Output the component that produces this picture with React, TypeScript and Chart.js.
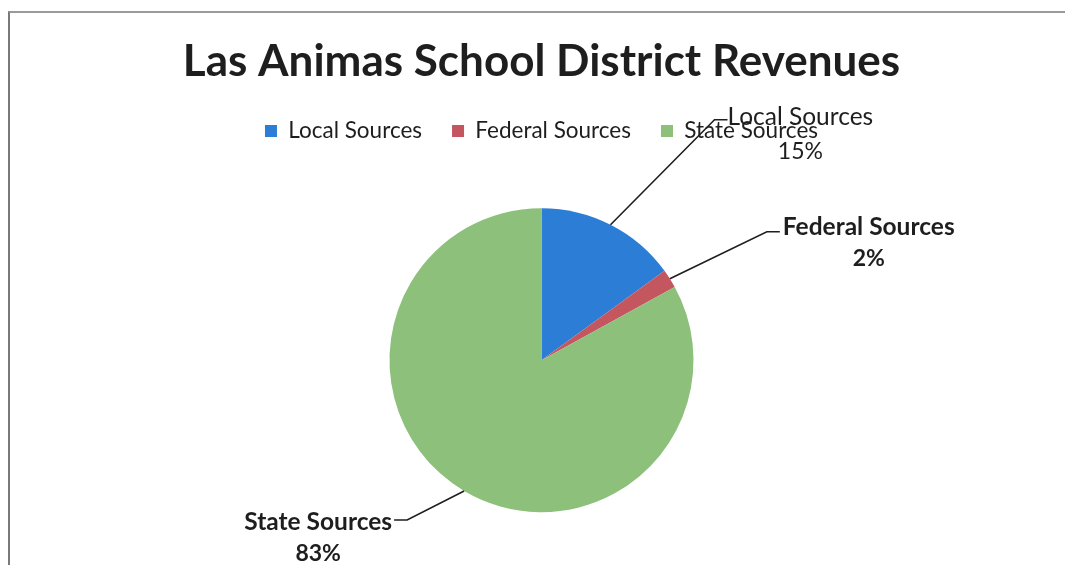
import React, { useEffect, useRef } from 'react';
import { Chart, registerables } from 'chart.js';

Chart.register(...registerables);

const titleText = 'Las Animas School District Revenues';
const categories = ['Local Sources', 'Federal Sources', 'State Sources'];
const shares = [15, 2, 83];
const percentLabels = ['15%', '2%', '83%'];

const sliceColors = ['#2C7DD6', '#C4565F', '#8DC07A'];

type Placement = {
  elbow: [number, number];
  end: [number, number];
  side: 'left' | 'right';
  gap: number;
  nameDy: number;
  pctDy: number;
  nameFont: string;
  pctFont: string;
};

const labelPlacement: Placement[] = [
  { elbow: [104, -105], end: [117, -105], side: 'right', gap: 0, nameDy: -3, pctDy: 35, nameFont: '400 24.5px Lato', pctFont: '400 23px Lato' },
  { elbow: [97, -47], end: [110, -47], side: 'right', gap: 3, nameDy: -5, pctDy: 32, nameFont: '700 24.5px Lato', pctFont: '700 23px Lato' },
  { elbow: [-57, 29], end: [-70, 29], side: 'left', gap: 2, nameDy: 2, pctDy: 32, nameFont: '700 24.5px Lato', pctFont: '700 23px Lato' },
];

const leaderLabels = {
  id: 'leaderLabels',
  afterDraw(chart: any) {
    const ctx = chart.ctx as CanvasRenderingContext2D;
    const meta = chart.getDatasetMeta(0);
    meta.data.forEach((arc: any, i: number) => {
      const p = arc.getProps(['x', 'y', 'startAngle', 'endAngle', 'outerRadius'], true);
      const mid = (p.startAngle + p.endAngle) / 2;
      const ax = p.x + Math.cos(mid) * p.outerRadius;
      const ay = p.y + Math.sin(mid) * p.outerRadius;
      const pl = labelPlacement[i];
      const ex = ax + pl.end[0];
      const ey = ay + pl.end[1];
      ctx.save();
      ctx.strokeStyle = '#1e1e1e';
      ctx.lineWidth = 1.6;
      ctx.beginPath();
      ctx.moveTo(ax, ay);
      ctx.lineTo(ax + pl.elbow[0], ay + pl.elbow[1]);
      ctx.lineTo(ex, ey);
      ctx.stroke();
      ctx.fillStyle = '#1e1e1e';
      ctx.textAlign = 'center';
      ctx.textBaseline = 'middle';
      ctx.font = pl.nameFont;
      const name = categories[i];
      const w = ctx.measureText(name).width;
      const left = pl.side === 'right' ? ex + pl.gap : ex - pl.gap - w;
      const cx = left + w / 2;
      ctx.fillText(name, cx, ey + pl.nameDy);
      ctx.font = pl.pctFont;
      ctx.fillText(percentLabels[i], cx, ey + pl.nameDy + pl.pctDy);
      ctx.restore();
    });
  },
};

export default function App() {
  const canvasRef = useRef<HTMLCanvasElement | null>(null);

  useEffect(() => {
    if (!canvasRef.current) return;
    const chart = new Chart(canvasRef.current, {
      type: 'pie',
      data: {
        labels: categories,
        datasets: [
          {
            data: shares,
            backgroundColor: sliceColors,
            borderWidth: 0,
            radius: 152,
          } as any,
        ],
      },
      options: {
        responsive: false,
        animation: false,
        events: [],
        layout: { padding: { top: 0, bottom: 0, left: 0, right: 0 } },
        plugins: {
          title: {
            display: true,
            text: titleText,
            color: '#1e1e1e',
            font: { family: 'Lato', size: 44, weight: 'bold', lineHeight: 1.2 },
            padding: { top: 24, bottom: 2 },
          },
          legend: {
            display: true,
            position: 'top',
            labels: {
              color: '#1e1e1e',
              font: { family: 'Lato', size: 22.5 },
              boxWidth: 12,
              boxHeight: 12,
              padding: 30,
            },
          },
          tooltip: { enabled: false },
        },
      },
      plugins: [leaderLabels],
    });
    return () => chart.destroy();
  }, []);

  return (
    <div style={{ position: 'fixed', left: 0, top: 0, width: 1065, height: 565, overflow: 'hidden', background: '#ffffff' }}>
      <div
        style={{
          position: 'absolute',
          left: 8,
          top: 11,
          width: 1100,
          height: 600,
          borderLeft: '2px solid #7a7a7a',
          borderTop: '2px solid #9a9a9a',
        }}
      />
      <canvas
        ref={canvasRef}
        width={1067}
        height={557}
        style={{ position: 'absolute', left: 8, top: 11, width: 1067, height: 557 }}
      />
    </div>
  );
}
